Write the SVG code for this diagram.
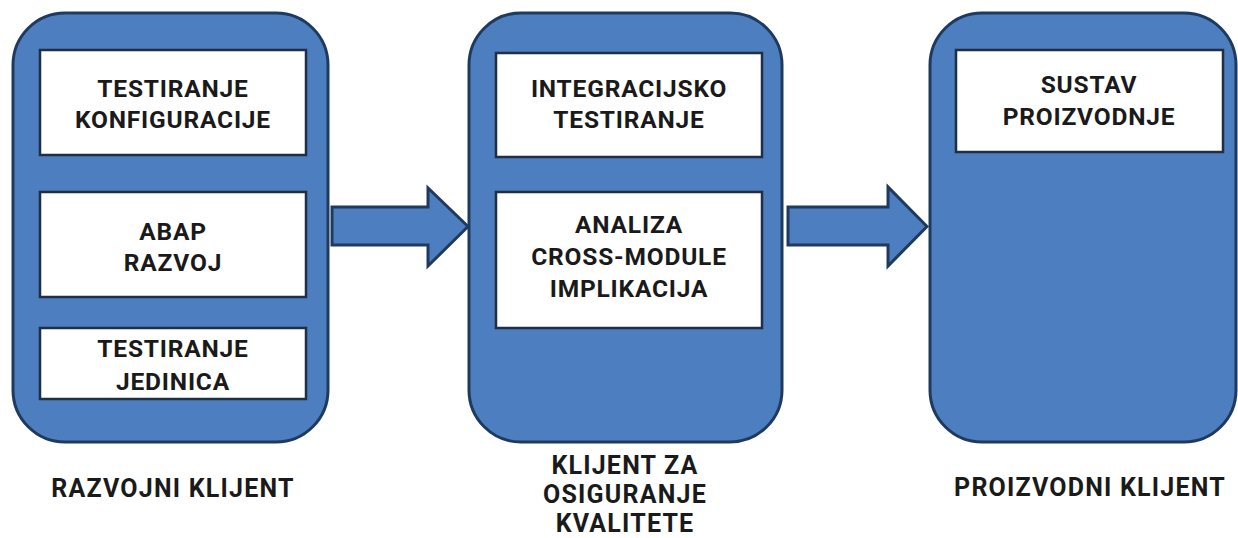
<svg xmlns="http://www.w3.org/2000/svg" width="1238" height="538" viewBox="0 0 1238 538">
<defs>
<style>
.cont{fill:#4d7ebf;stroke:#1f3a60;stroke-width:3}
.box{fill:#ffffff;stroke:#1f2f45;stroke-width:2.5}
.arrow{fill:#4d7ebf;stroke:#1f3a60;stroke-width:3;stroke-linejoin:miter}
text{font-family:Roboto,"Liberation Sans",sans-serif;font-weight:bold;font-size:24.5px;letter-spacing:0.8px;fill:#1a1a1a;text-anchor:middle}
.lbl{font-size:25px;letter-spacing:1.2px}
</style>
</defs>
<rect width="1238" height="538" fill="#ffffff"/>
<g id="connectors">
<path class="arrow" d="M332,207 H428 V188 L468,226.5 L428,266 V245 H332 Z"/>
<path class="arrow" d="M788,207 H888 V187 L927,226.5 L888,266 V245 H788 Z"/>
</g>
<g id="razvojni-klijent">
<rect class="cont" x="13" y="13" width="315" height="429" rx="52" ry="52"/>
<text class="lbl" x="173" y="497">RAZVOJNI KLIJENT</text>
</g>
<g id="testiranje-konfiguracije">
<rect class="box" x="40" y="50" width="266" height="105"/>
<text x="173" y="97">TESTIRANJE</text>
<text x="173" y="128">KONFIGURACIJE</text>
</g>
<g id="abap-razvoj">
<rect class="box" x="40" y="192" width="266" height="105"/>
<text x="173" y="240">ABAP</text>
<text x="173" y="271">RAZVOJ</text>
</g>
<g id="testiranje-jedinica">
<rect class="box" x="40" y="328" width="266" height="71"/>
<text x="173" y="357">TESTIRANJE</text>
<text x="173" y="390">JEDINICA</text>
</g>
<g id="klijent-za-osiguranje-kvalitete">
<rect class="cont" x="469" y="13" width="313" height="429" rx="52" ry="52"/>
<text class="lbl" x="625" y="474">KLIJENT ZA</text>
<text class="lbl" x="625" y="503">OSIGURANJE</text>
<text class="lbl" x="625" y="532">KVALITETE</text>
</g>
<g id="integracijsko-testiranje">
<rect class="box" x="496" y="53" width="266" height="104"/>
<text x="629" y="97">INTEGRACIJSKO</text>
<text x="629" y="128">TESTIRANJE</text>
</g>
<g id="analiza">
<rect class="box" x="496" y="192" width="266" height="136"/>
<text x="629" y="233">ANALIZA</text>
<text x="629" y="265">CROSS-MODULE</text>
<text x="629" y="297">IMPLIKACIJA</text>
</g>
<g id="proizvodni-klijent">
<rect class="cont" x="930" y="13" width="306" height="429" rx="52" ry="52"/>
<text class="lbl" x="1090" y="496">PROIZVODNI KLIJENT</text>
</g>
<g id="sustav-proizvodnje">
<rect class="box" x="956" y="50" width="267" height="102"/>
<text x="1089" y="93">SUSTAV</text>
<text x="1089" y="125">PROIZVODNJE</text>
</g>
</svg>
